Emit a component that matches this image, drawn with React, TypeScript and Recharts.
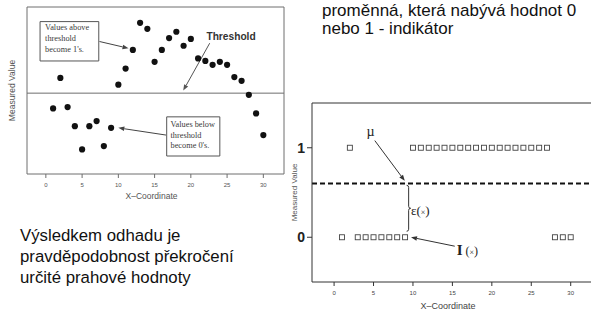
import React from 'react';
import {
  ScatterChart,
  Scatter,
  XAxis,
  YAxis,
  ReferenceLine,
  ReferenceArea,
  ReferenceDot,
} from 'recharts';

// X coordinate of every sample (shared by both panels)
const xCoord = [1, 2, 3, 4, 5, 6, 7, 8, 9, 10, 11, 12, 13, 14, 15, 16, 17, 18, 19, 20, 21, 22, 23, 24, 25, 26, 27, 28, 29, 30];
// left panel: raw measured values
const measuredValue = [
  2.25, 2.97, 2.28, 1.83, 1.28, 1.83, 1.95, 1.36, 1.79, 2.81, 3.19, 3.63, 4.27, 4.13, 3.35,
  3.63, 3.91, 4.06, 3.73, 3.89, 3.43, 3.37, 3.28, 3.35, 3.28, 2.99, 2.9, 2.57, 2.13, 1.62,
];
// right panel: indicator (0 / 1)
const indicatorValue = [0, 1, 0, 0, 0, 0, 0, 0, 0, 1, 1, 1, 1, 1, 1, 1, 1, 1, 1, 1, 1, 1, 1, 1, 1, 1, 1, 0, 0, 0];

const xTicks = [0, 5, 10, 15, 20, 25, 30];
const measuredTicks = [1, 2, 3, 4];
const indicatorTicks = [0, 1];
const threshold = 2.61;
const mu = 0.6;

const SANS = '"Liberation Sans", Arial, sans-serif';
const SERIF = '"Liberation Serif", "Times New Roman", serif';
const LEFT_FRAME = '#6e6e6e';
const RIGHT_FRAME = '#333';

const measuredData = xCoord.map((x, i) => ({ x, y: measuredValue[i] }));
const indicatorData = xCoord.map((x, i) => ({ x, y: indicatorValue[i] }));

// line with a filled arrow head at the second point
const arrowShape = (color: string) => (p: any) => {
  const { x1, y1, x2, y2 } = p;
  const a = Math.atan2(y2 - y1, x2 - x1);
  const len = 6;
  const w = 2.3;
  const bx = x2 - len * Math.cos(a);
  const by = y2 - len * Math.sin(a);
  const pts = [
    `${x2},${y2}`,
    `${bx - w * Math.sin(a)},${by + w * Math.cos(a)}`,
    `${bx + w * Math.sin(a)},${by - w * Math.cos(a)}`,
  ].join(' ');
  return (
    <g>
      <line x1={x1} y1={y1} x2={bx} y2={by} stroke={color} strokeWidth={1} />
      <polygon points={pts} fill={color} />
    </g>
  );
};

// curly brace pointing right
const braceShape = (p: any) => {
  const { x1, y1, y2 } = p;
  const w = 4;
  const top = Math.min(y1, y2);
  const bot = Math.max(y1, y2);
  const ym = (top + bot) / 2;
  const h = w / 2;
  const d = `M${x1},${top} Q${x1 + h},${top} ${x1 + h},${top + h} L${x1 + h},${ym - h} Q${x1 + h},${ym} ${x1 + w},${ym} Q${x1 + h},${ym} ${x1 + h},${ym + h} L${x1 + h},${bot - h} Q${x1 + h},${bot} ${x1},${bot}`;
  return <path d={d} fill="none" stroke="#333" strokeWidth={1} />;
};

const note = (
  key: string,
  x: number,
  y: number,
  lines: string[],
  style: React.CSSProperties,
  lineHeight = 10,
) => (
  <ReferenceDot
    key={key}
    x={x}
    y={y}
    r={0}
    ifOverflow="visible"
    shape={(p: any) => (
      <text x={p.cx} y={p.cy} style={style}>
        {lines.map((l, i) => (
          <tspan key={i} x={p.cx} dy={i === 0 ? 0 : lineHeight}>
            {l}
          </tspan>
        ))}
      </text>
    )}
  />
);

const boxText: React.CSSProperties = { fontFamily: SERIF, fontSize: 8.3, fill: '#3a3a3a' };

const MeasuredPanel = () => (
  <ScatterChart width={300} height={200} margin={{ top: 0, right: 0, bottom: 0, left: 0 }}>
    <XAxis
      type="number"
      dataKey="x"
      domain={[-2.6, 32.85]}
      allowDataOverflow
      ticks={xTicks}
      tickSize={4}
      tickMargin={5}
      height={26}
      stroke={LEFT_FRAME}
      tick={{ fontSize: 6, fill: '#555', fontFamily: SANS }}
      label={{ value: 'X–Coordinate', position: 'insideBottom', offset: 1, dx: -4, fontSize: 8.5, fill: '#555', fontFamily: SANS }}
    />
    <XAxis
      xAxisId="top"
      orientation="top"
      type="number"
      domain={[-2.6, 32.85]}
      allowDataOverflow
      ticks={xTicks}
      tickSize={4}
      height={7}
      stroke={LEFT_FRAME}
      tick={false}
    />
    <YAxis
      type="number"
      dataKey="y"
      domain={[0.7, 4.645]}
      allowDataOverflow
      ticks={measuredTicks}
      tickSize={4}
      width={27}
      stroke={LEFT_FRAME}
      tick={false}
      label={{ value: 'Measured Value', angle: -90, position: 'insideLeft', offset: 12, fontSize: 8.5, fill: '#555', fontFamily: SANS, style: { textAnchor: 'middle' } }}
    />
    <YAxis
      yAxisId="right"
      orientation="right"
      type="number"
      domain={[0.7, 4.645]}
      allowDataOverflow
      ticks={measuredTicks}
      tickSize={4}
      width={16}
      stroke={LEFT_FRAME}
      tick={false}
    />
    <ReferenceLine y={threshold} stroke={LEFT_FRAME} strokeWidth={1} />

    <ReferenceArea x1={-0.8} x2={7.3} y1={3.37} y2={4.3} fill="#fff" fillOpacity={1} stroke="#555" strokeWidth={1} />
    <ReferenceArea x1={16.67} x2={24.0} y1={1.125} y2={2.05} fill="#fff" fillOpacity={1} stroke="#555" strokeWidth={1} />

    <ReferenceLine segment={[{ x: 7.4, y: 3.83 }, { x: 11.4, y: 3.67 }]} shape={arrowShape('#444')} />
    <ReferenceLine segment={[{ x: 16.57, y: 1.62 }, { x: 10.0, y: 1.79 }]} shape={arrowShape('#444')} />
    <ReferenceLine segment={[{ x: 22.6, y: 3.79 }, { x: 18.95, y: 2.67 }]} shape={arrowShape('#555')} />

    {note('above', -0.1, 4.1, ['Values above', 'threshold', "become 1's."], boxText, 10.8)}
    {note('below', 17.2, 1.81, ['Values below', 'threshold', "become 0's."], boxText, 10.5)}
    {note('thr', 22.15, 3.87, ['Threshold'], { fontFamily: SANS, fontSize: 10.2, fontWeight: 'bold', fill: '#333' })}

    <Scatter
      data={measuredData}
      isAnimationActive={false}
      shape={(p: any) => <circle cx={p.cx} cy={p.cy} r={3.1} fill="#111" />}
    />
  </ScatterChart>
);

const IndicatorPanel = () => (
  <ScatterChart width={307} height={214} margin={{ top: 0, right: 0, bottom: 0, left: 0 }}>
    <XAxis
      type="number"
      dataKey="x"
      domain={[-2.8, 32.7]}
      allowDataOverflow
      ticks={xTicks}
      tickSize={4}
      tickMargin={5}
      height={30}
      stroke={RIGHT_FRAME}
      tick={{ fontSize: 6, fill: '#444', fontFamily: SANS }}
      label={{ value: 'X–Coordinate', position: 'insideBottom', offset: 3, dx: -4, fontSize: 9, fill: '#444', fontFamily: SANS }}
    />
    <XAxis
      xAxisId="top"
      orientation="top"
      type="number"
      domain={[-2.8, 32.7]}
      allowDataOverflow
      ticks={xTicks}
      tickSize={4}
      height={5}
      stroke={RIGHT_FRAME}
      tick={false}
    />
    <YAxis
      type="number"
      dataKey="y"
      domain={[-0.5, 1.5]}
      allowDataOverflow
      ticks={indicatorTicks}
      tickSize={5}
      tickMargin={2}
      width={27}
      stroke={RIGHT_FRAME}
      tick={{ fontSize: 14, fontWeight: 'bold', fill: '#222', fontFamily: SANS }}
      label={{ value: 'Measured Value', angle: -90, position: 'insideLeft', offset: 9, fontSize: 8, fill: '#555', fontFamily: SANS, style: { textAnchor: 'middle' } }}
    />
    <ReferenceLine y={mu} stroke="#111" strokeWidth={2} strokeDasharray="5 3" />

    <ReferenceLine segment={[{ x: 5.16, y: 1.08 }, { x: 8.96, y: 0.63 }]} shape={arrowShape('#333')} />
    <ReferenceLine segment={[{ x: 15.3, y: -0.1 }, { x: 9.75, y: 0 }]} shape={arrowShape('#333')} />
    <ReferenceLine segment={[{ x: 9.2, y: 0.58 }, { x: 9.2, y: 0.067 }]} shape={braceShape} />

    {note('mu', 4.1, 1.13, ['µ'], { fontFamily: SERIF, fontSize: 14, fill: '#222' })}
    <ReferenceDot
      x={9.75}
      y={0.25}
      r={0}
      ifOverflow="visible"
      shape={(p: any) => (
        <text x={p.cx} y={p.cy} style={{ fontFamily: SERIF, fontSize: 13, fill: '#222' }}>
          ε(<tspan fontSize={8}>×</tspan>)
        </text>
      )}
    />
    <ReferenceDot
      x={15.55}
      y={-0.2}
      r={0}
      ifOverflow="visible"
      shape={(p: any) => (
        <text x={p.cx} y={p.cy} style={{ fontFamily: SERIF, fontSize: 15, fill: '#222' }}>
          <tspan fontWeight="bold">I</tspan>
          <tspan fontSize={12}> (</tspan>
          <tspan fontSize={8}>×</tspan>
          <tspan fontSize={12}>)</tspan>
        </text>
      )}
    />

    <Scatter
      data={indicatorData}
      isAnimationActive={false}
      shape={(p: any) => (
        <rect x={p.cx - 2.5} y={p.cy - 2.5} width={5} height={5} fill="#fff" stroke="#444" strokeWidth={0.9} />
      )}
    />
  </ScatterChart>
);

const textStyle: React.CSSProperties = {
  position: 'absolute',
  fontFamily: SANS,
  color: '#111',
  whiteSpace: 'nowrap',
};

export default function App() {
  return (
    <div
      style={{
        position: 'absolute',
        left: 0,
        top: 0,
        width: 591,
        height: 312,
        overflow: 'hidden',
        background: '#fff',
      }}
    >
      <div style={{ position: 'absolute', left: 0, top: 0 }}>
        <MeasuredPanel />
      </div>
      <div style={{ position: 'absolute', left: 285, top: 98 }}>
        <IndicatorPanel />
      </div>

      <div style={{ ...textStyle, left: 322, top: 1.5, fontSize: 17, lineHeight: '18.3px' }}>
        proměnná, která nabývá hodnot 0
        <br />
        nebo 1 - indikátor
      </div>
      <div style={{ ...textStyle, left: 20, top: 225, fontSize: 16.8, lineHeight: '21.2px' }}>
        Výsledkem odhadu je
        <br />
        pravděpodobnost překročení
        <br />
        určité prahové hodnoty
      </div>
    </div>
  );
}
